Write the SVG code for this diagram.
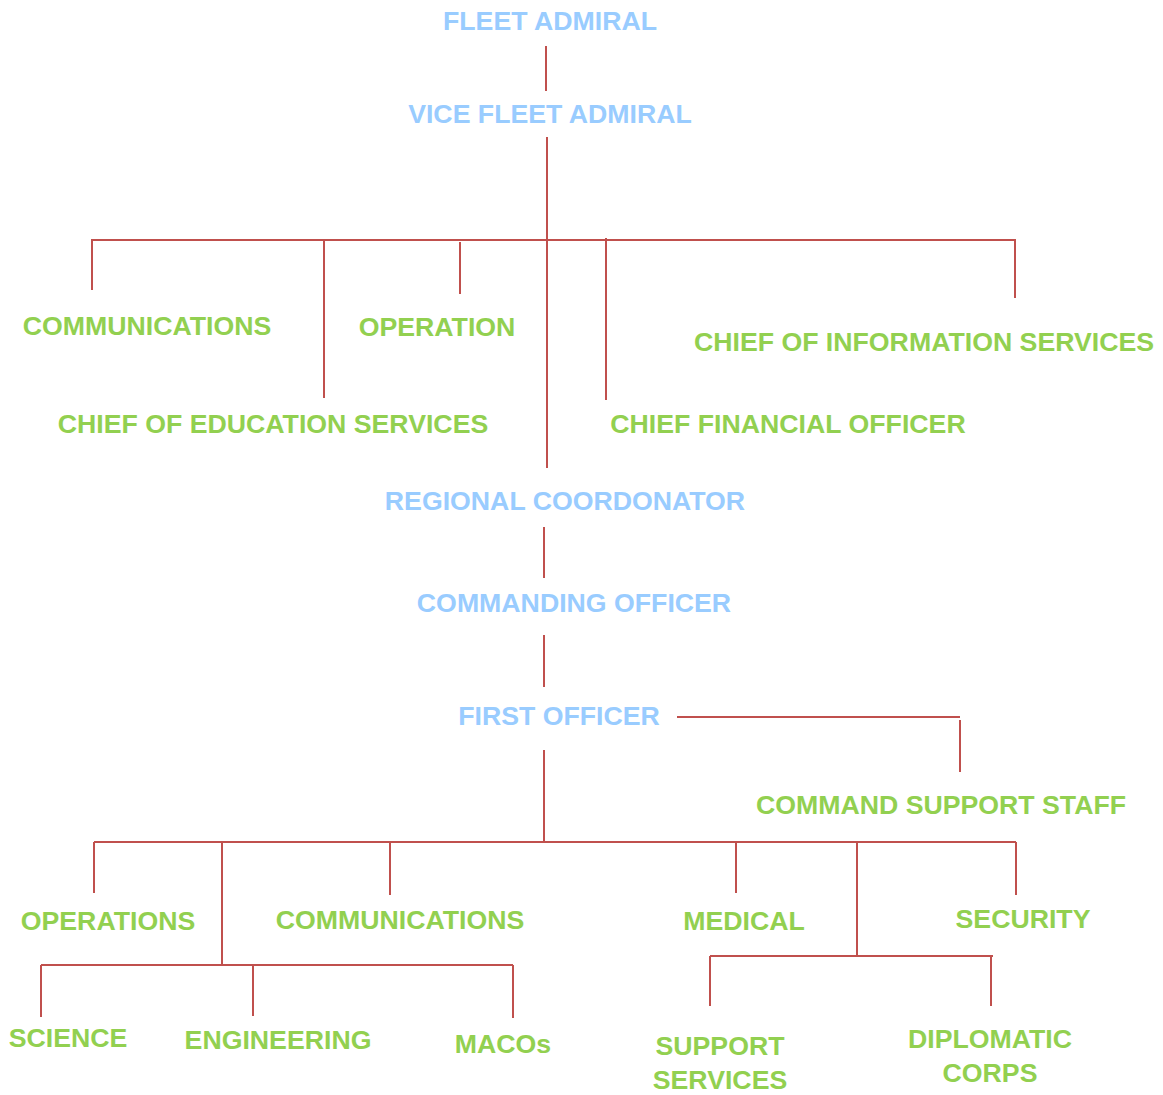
<svg xmlns="http://www.w3.org/2000/svg" width="1163" height="1095" viewBox="0 0 1163 1095">
<style>
text{font-family:"Liberation Sans",Arial,sans-serif;font-weight:bold;font-size:26.7px;text-anchor:middle}
.b{fill:#99CCFF}
.g{fill:#92D050}
.c line{stroke:#C0504D;stroke-width:2;fill:none}
</style>
<rect width="1163" height="1095" fill="#fff"/>
<g class="c" id="connectors">
<line x1="546" y1="46" x2="546" y2="91"/>
<line x1="547" y1="137" x2="547" y2="468"/>
<line x1="92" y1="240" x2="1015" y2="240"/>
<line x1="92" y1="239" x2="92" y2="290"/>
<line x1="324" y1="240" x2="324" y2="398"/>
<line x1="460" y1="242" x2="460" y2="294"/>
<line x1="606" y1="238" x2="606" y2="400"/>
<line x1="1015" y1="239" x2="1015" y2="298"/>
<line x1="544" y1="527" x2="544" y2="578"/>
<line x1="544" y1="635" x2="544" y2="687"/>
<line x1="677" y1="717" x2="960" y2="717"/>
<line x1="960" y1="720" x2="960" y2="772"/>
<line x1="544" y1="750" x2="544" y2="842"/>
<line x1="94" y1="842" x2="1016" y2="842"/>
<line x1="94" y1="842" x2="94" y2="893"/>
<line x1="222" y1="842" x2="222" y2="965"/>
<line x1="390" y1="842" x2="390" y2="895"/>
<line x1="736" y1="842" x2="736" y2="893"/>
<line x1="857" y1="842" x2="857" y2="956"/>
<line x1="1016" y1="842" x2="1016" y2="895"/>
<line x1="41" y1="965" x2="513" y2="965"/>
<line x1="41" y1="965" x2="41" y2="1017"/>
<line x1="253" y1="966" x2="253" y2="1016"/>
<line x1="513" y1="965" x2="513" y2="1018"/>
<line x1="710" y1="956" x2="993" y2="956"/>
<line x1="710" y1="956" x2="710" y2="1006"/>
<line x1="991" y1="956" x2="991" y2="1006"/>
</g>
<g id="fleet-admiral"><text class="b" x="550" y="30">FLEET ADMIRAL</text></g>
<g id="vice-fleet-admiral"><text class="b" x="550" y="123">VICE FLEET ADMIRAL</text></g>
<g id="communications-top"><text class="g" x="147" y="335">COMMUNICATIONS</text></g>
<g id="operation"><text class="g" x="437" y="336">OPERATION</text></g>
<g id="chief-information"><text class="g" x="924" y="351">CHIEF OF INFORMATION SERVICES</text></g>
<g id="chief-education"><text class="g" x="273" y="433">CHIEF OF EDUCATION SERVICES</text></g>
<g id="chief-financial"><text class="g" x="788" y="433">CHIEF FINANCIAL OFFICER</text></g>
<g id="regional-coordonator"><text class="b" x="565" y="510">REGIONAL COORDONATOR</text></g>
<g id="commanding-officer"><text class="b" x="574" y="612">COMMANDING OFFICER</text></g>
<g id="first-officer"><text class="b" x="559" y="725">FIRST OFFICER</text></g>
<g id="command-support-staff"><text class="g" x="941" y="814">COMMAND SUPPORT STAFF</text></g>
<g id="operations"><text class="g" x="108" y="930">OPERATIONS</text></g>
<g id="communications-bottom"><text class="g" x="400" y="929">COMMUNICATIONS</text></g>
<g id="medical"><text class="g" x="744" y="930">MEDICAL</text></g>
<g id="security"><text class="g" x="1023" y="928">SECURITY</text></g>
<g id="science"><text class="g" x="68" y="1047">SCIENCE</text></g>
<g id="engineering"><text class="g" x="278" y="1049">ENGINEERING</text></g>
<g id="macos"><text class="g" x="503" y="1053">MACOs</text></g>
<g id="support-services"><text class="g" x="720" y="1055">SUPPORT</text><text class="g" x="720" y="1089">SERVICES</text></g>
<g id="diplomatic-corps"><text class="g" x="990" y="1048">DIPLOMATIC</text><text class="g" x="990" y="1082">CORPS</text></g>
</svg>
